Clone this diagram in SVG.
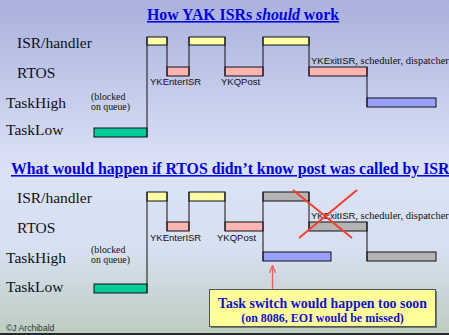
<svg xmlns="http://www.w3.org/2000/svg" width="449" height="335" viewBox="0 0 449 335">
<defs>
<linearGradient id="bg" x1="0" y1="0" x2="0" y2="1">
<stop offset="0" stop-color="#a9b1dd"/>
<stop offset="0.5" stop-color="#dbe2f7"/>
<stop offset="0.75" stop-color="#d6e0f0"/>
<stop offset="1" stop-color="#bccdc0"/>
</linearGradient>
<marker id="ah" viewBox="0 0 10 10" refX="9" refY="5" markerWidth="8" markerHeight="8" markerUnits="userSpaceOnUse" orient="auto">
<path d="M0,1 L10,5 L0,9" fill="none" stroke="#ff5a5a" stroke-width="1.5"/>
</marker>
<style>
.title{font-family:"Liberation Serif",serif;font-weight:bold;font-size:15.8px;fill:#0000ee;text-decoration:underline}
.lab{font-family:"Liberation Serif",serif;font-size:15.5px;fill:#111}
.small{font-family:"Liberation Sans",sans-serif;font-size:9.5px;fill:#111}
.ser{font-family:"Liberation Serif",serif;font-size:10.5px;fill:#111}
.note{font-family:"Liberation Serif",serif;font-size:9.8px;fill:#111}
.bar{stroke:#111;stroke-width:1}
.isr{fill:#ffffa8}
.rtos{fill:#ffb4b4}
.high{fill:#9aa0ff}
.low{fill:#00cc99}
.grey{fill:#b4b4b4}
.wire{stroke:#111;stroke-width:1;fill:none}
.box{font-family:"Liberation Serif",serif;font-weight:bold;fill:#1010d8}
</style>
</defs>
<rect x="0" y="0" width="449" height="335" fill="url(#bg)"/>
<rect x="0" y="333" width="449" height="2" fill="#2a2a2a"/>

<g id="title1"><text class="title" x="243" y="20" text-anchor="middle">How YAK ISRs <tspan font-style="italic">should</tspan> work</text></g>
<g id="title2"><text class="title" x="11" y="174">What would happen if RTOS didn’t know post was called by ISR</text></g>

<g id="labels-top">
<text class="lab" x="17" y="48">ISR/handler</text>
<text class="lab" x="17" y="78">RTOS</text>
<text class="lab" x="6" y="108">TaskHigh</text>
<text class="lab" x="6" y="135">TaskLow</text>
<text class="note" x="91" y="99.5">(blocked</text>
<text class="note" x="91" y="110">on queue)</text>
</g>

<g id="timeline-top">
<rect class="bar isr" x="147" y="37" width="20" height="8"/>
<rect class="bar isr" x="189" y="37" width="36" height="8"/>
<rect class="bar isr" x="263" y="37" width="46" height="8"/>
<rect class="bar rtos" x="167" y="67" width="22" height="9"/>
<rect class="bar rtos" x="225" y="67" width="38" height="9"/>
<rect class="bar rtos" x="309" y="67" width="58" height="9"/>
<rect class="bar high" x="367" y="98" width="69" height="9"/>
<rect class="bar low" x="94" y="128" width="53" height="9"/>
</g>
<g id="connectors-top">
<path class="wire" d="M147,37V137 M167,37V76 M189,37V76 M225,37V76 M263,37V76 M309,37V76 M367,67V107"/>
</g>
<g id="notes-top">
<text class="small" x="150" y="85">YKEnterISR</text>
<text class="small" x="221" y="85">YKQPost</text>
<text class="small" x="311" y="64">YKExitISR<tspan class="ser">, scheduler, dispatcher</tspan></text>
</g>

<g id="labels-bottom">
<text class="lab" x="17" y="203">ISR/handler</text>
<text class="lab" x="17" y="233">RTOS</text>
<text class="lab" x="6" y="263">TaskHigh</text>
<text class="lab" x="6" y="292">TaskLow</text>
<text class="note" x="91" y="252.5">(blocked</text>
<text class="note" x="91" y="263">on queue)</text>
</g>

<g id="timeline-bottom">
<rect class="bar isr" x="147" y="192" width="20" height="9"/>
<rect class="bar isr" x="189" y="192" width="36" height="9"/>
<rect class="bar grey" x="263" y="192" width="46" height="9"/>
<rect class="bar rtos" x="167" y="222" width="22" height="9"/>
<rect class="bar rtos" x="225" y="222" width="38" height="9"/>
<rect class="bar grey" x="309" y="222" width="58" height="9"/>
<rect class="bar high" x="263" y="252" width="68" height="9"/>
<rect class="bar grey" x="367" y="252" width="69" height="9"/>
<rect class="bar low" x="94" y="284" width="53" height="9"/>
</g>
<g id="connectors-bottom">
<path class="wire" d="M147,192V293 M167,192V231 M189,192V231 M225,192V231 M263,192V261 M309,192V231 M367,222V261"/>
<path d="M272.5,290V266" stroke="#ff5a5a" stroke-width="1.3" fill="none" marker-end="url(#ah)"/>
</g>
<g id="notes-bottom">
<text class="small" x="150" y="241">YKEnterISR</text>
<text class="small" x="217" y="241">YKQPost</text>
<text class="small" x="311" y="219">YKExitISR<tspan class="ser">, scheduler, dispatcher</tspan></text>
</g>

<g id="cross">
<path d="M293,190L352,238 M357,190L299,238" stroke="#ff3a2a" stroke-width="2" fill="none"/>
</g>

<g id="callout">
<rect x="211" y="291" width="226" height="37" fill="#6f7a70"/>
<rect x="209.5" y="289.5" width="226" height="37" fill="#ffff99" stroke="#555" stroke-width="1"/>
<text class="box" x="322.5" y="307.5" text-anchor="middle" font-size="13.9">Task switch would happen too soon</text>
<text class="box" x="322.5" y="321.5" text-anchor="middle" font-size="12">(on 8086, EOI would be missed)</text>
</g>

<g id="credit">
<text x="6" y="331" font-family="Liberation Sans, sans-serif" font-size="8.6" fill="#333">©J Archibald</text>
</g>
</svg>
